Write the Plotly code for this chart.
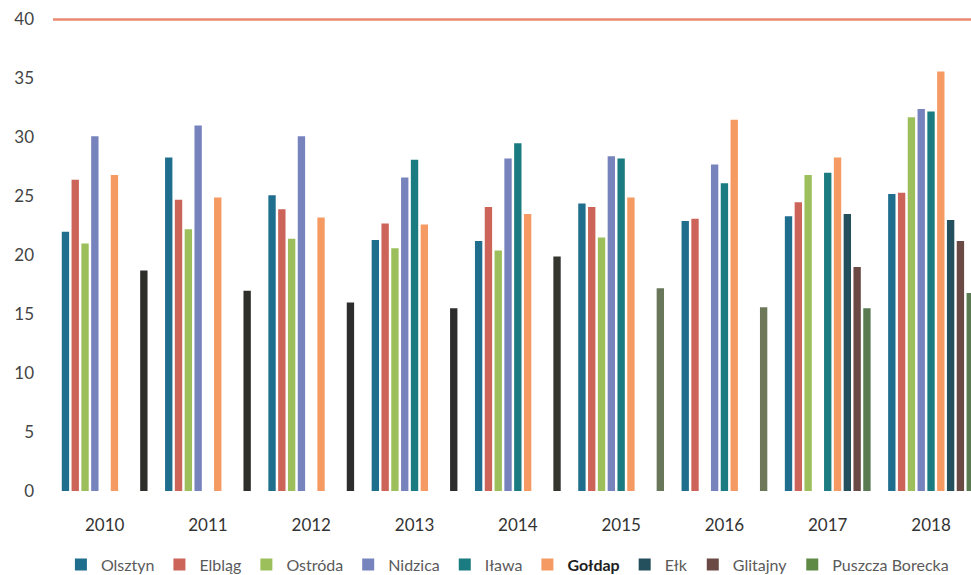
import plotly.graph_objects as go

years = ["2010", "2011", "2012", "2013", "2014", "2015", "2016", "2017", "2018"]

olsztyn = [22.0, 28.3, 25.1, 21.3, 21.2, 24.4, 22.9, 23.3, 25.2]
elblag = [26.4, 24.7, 23.9, 22.7, 24.1, 24.1, 23.1, 24.5, 25.3]
ostroda = [21.0, 22.2, 21.4, 20.6, 20.4, 21.5, None, 26.8, 31.7]
nidzica = [30.1, 31.0, 30.1, 26.6, 28.2, 28.4, 27.7, None, 32.4]
ilawa = [None, None, None, 28.1, 29.5, 28.2, 26.1, 27.0, 32.2]
goldap = [26.8, 24.9, 23.2, 22.6, 23.5, 24.9, 31.5, 28.3, 35.6]
elk = [None, None, None, None, None, None, None, 23.5, 23.0]
glitajny = [None, None, None, None, None, None, None, 19.0, 21.2]
puszcza = [18.7, 17.0, 16.0, 15.5, 19.9, 17.2, 15.6, 15.5, 16.8]

limit_value = 40
y_ticks = [0, 5, 10, 15, 20, 25, 30, 35, 40]

series = [
    ("Olsztyn", olsztyn, "#1f6e8e"),
    ("Elbląg", elblag, "#cc645a"),
    ("Ostróda", ostroda, "#9cbf5c"),
    ("Nidzica", nidzica, "#7683bd"),
    ("Iława", ilawa, "#1a7b80"),
    ("<b><span style='color:#1e1e1e'>Gołdap</span></b>", goldap, "#f59a62"),
    ("Ełk", elk, "#244f5c"),
    ("Glitajny", glitajny, "#6b4a46"),
]

# darker print of the Puszcza Borecka bars in the early years
puszcza_colors = ["#2e2e2b", "#2e2e2b", "#2d2d2d", "#2d2d2d", "#34352f",
                  "#68765a", "#6c7858", "#5a7a52", "#5a7a52"]

fig = go.Figure()
for name, vals, color in series:
    fig.add_trace(go.Bar(
        x=years, y=vals, name=name, offsetgroup=name,
        marker=dict(color=color, line=dict(width=0)),
    ))

fig.add_trace(go.Bar(
    x=years, y=puszcza, name="Puszcza Borecka", offsetgroup="pb",
    marker=dict(color=puszcza_colors, line=dict(width=0)),
    showlegend=False, legendgroup="pb",
))
# legend swatch for Puszcza Borecka
fig.add_trace(go.Bar(
    x=years, y=[None] * len(years), name="Puszcza Borecka", offsetgroup="pb",
    marker=dict(color="#5e8a46", line=dict(width=0)), legendgroup="pb",
))

fig.add_shape(
    type="line", xref="paper", yref="y", x0=0, x1=1, y0=limit_value, y1=limit_value,
    line=dict(color="#ea8a70", width=2.5), layer="above",
)

fig.update_layout(
    width=971, height=575,
    margin=dict(l=53, r=0, t=16, b=84, autoexpand=False),
    paper_bgcolor="white", plot_bgcolor="white",
    barmode="group", bargap=0.146, bargroupgap=0.25,
    font=dict(family="Lato, Open Sans, sans-serif", size=16, color="#555555"),
    showlegend=True,
    legend=dict(
        orientation="h", x=0.495, xanchor="center", y=-0.155, yanchor="middle",
        font=dict(size=16, color="#5a5a5a"), itemwidth=30, tracegroupgap=0,
    ),
    xaxis=dict(
        type="category", range=[-0.5, 8.387], showgrid=False, zeroline=False,
        showline=False, ticks="", ticklabelstandoff=22,
        tickfont=dict(size=17, color="#333333"),
    ),
    yaxis=dict(
        range=[0, 40.3], tickvals=y_ticks, showgrid=False, zeroline=False,
        showline=False, ticks="", ticklabelstandoff=18,
        tickfont=dict(size=17, color="#444444"),
    ),
)

fig.write_html("out.html")
